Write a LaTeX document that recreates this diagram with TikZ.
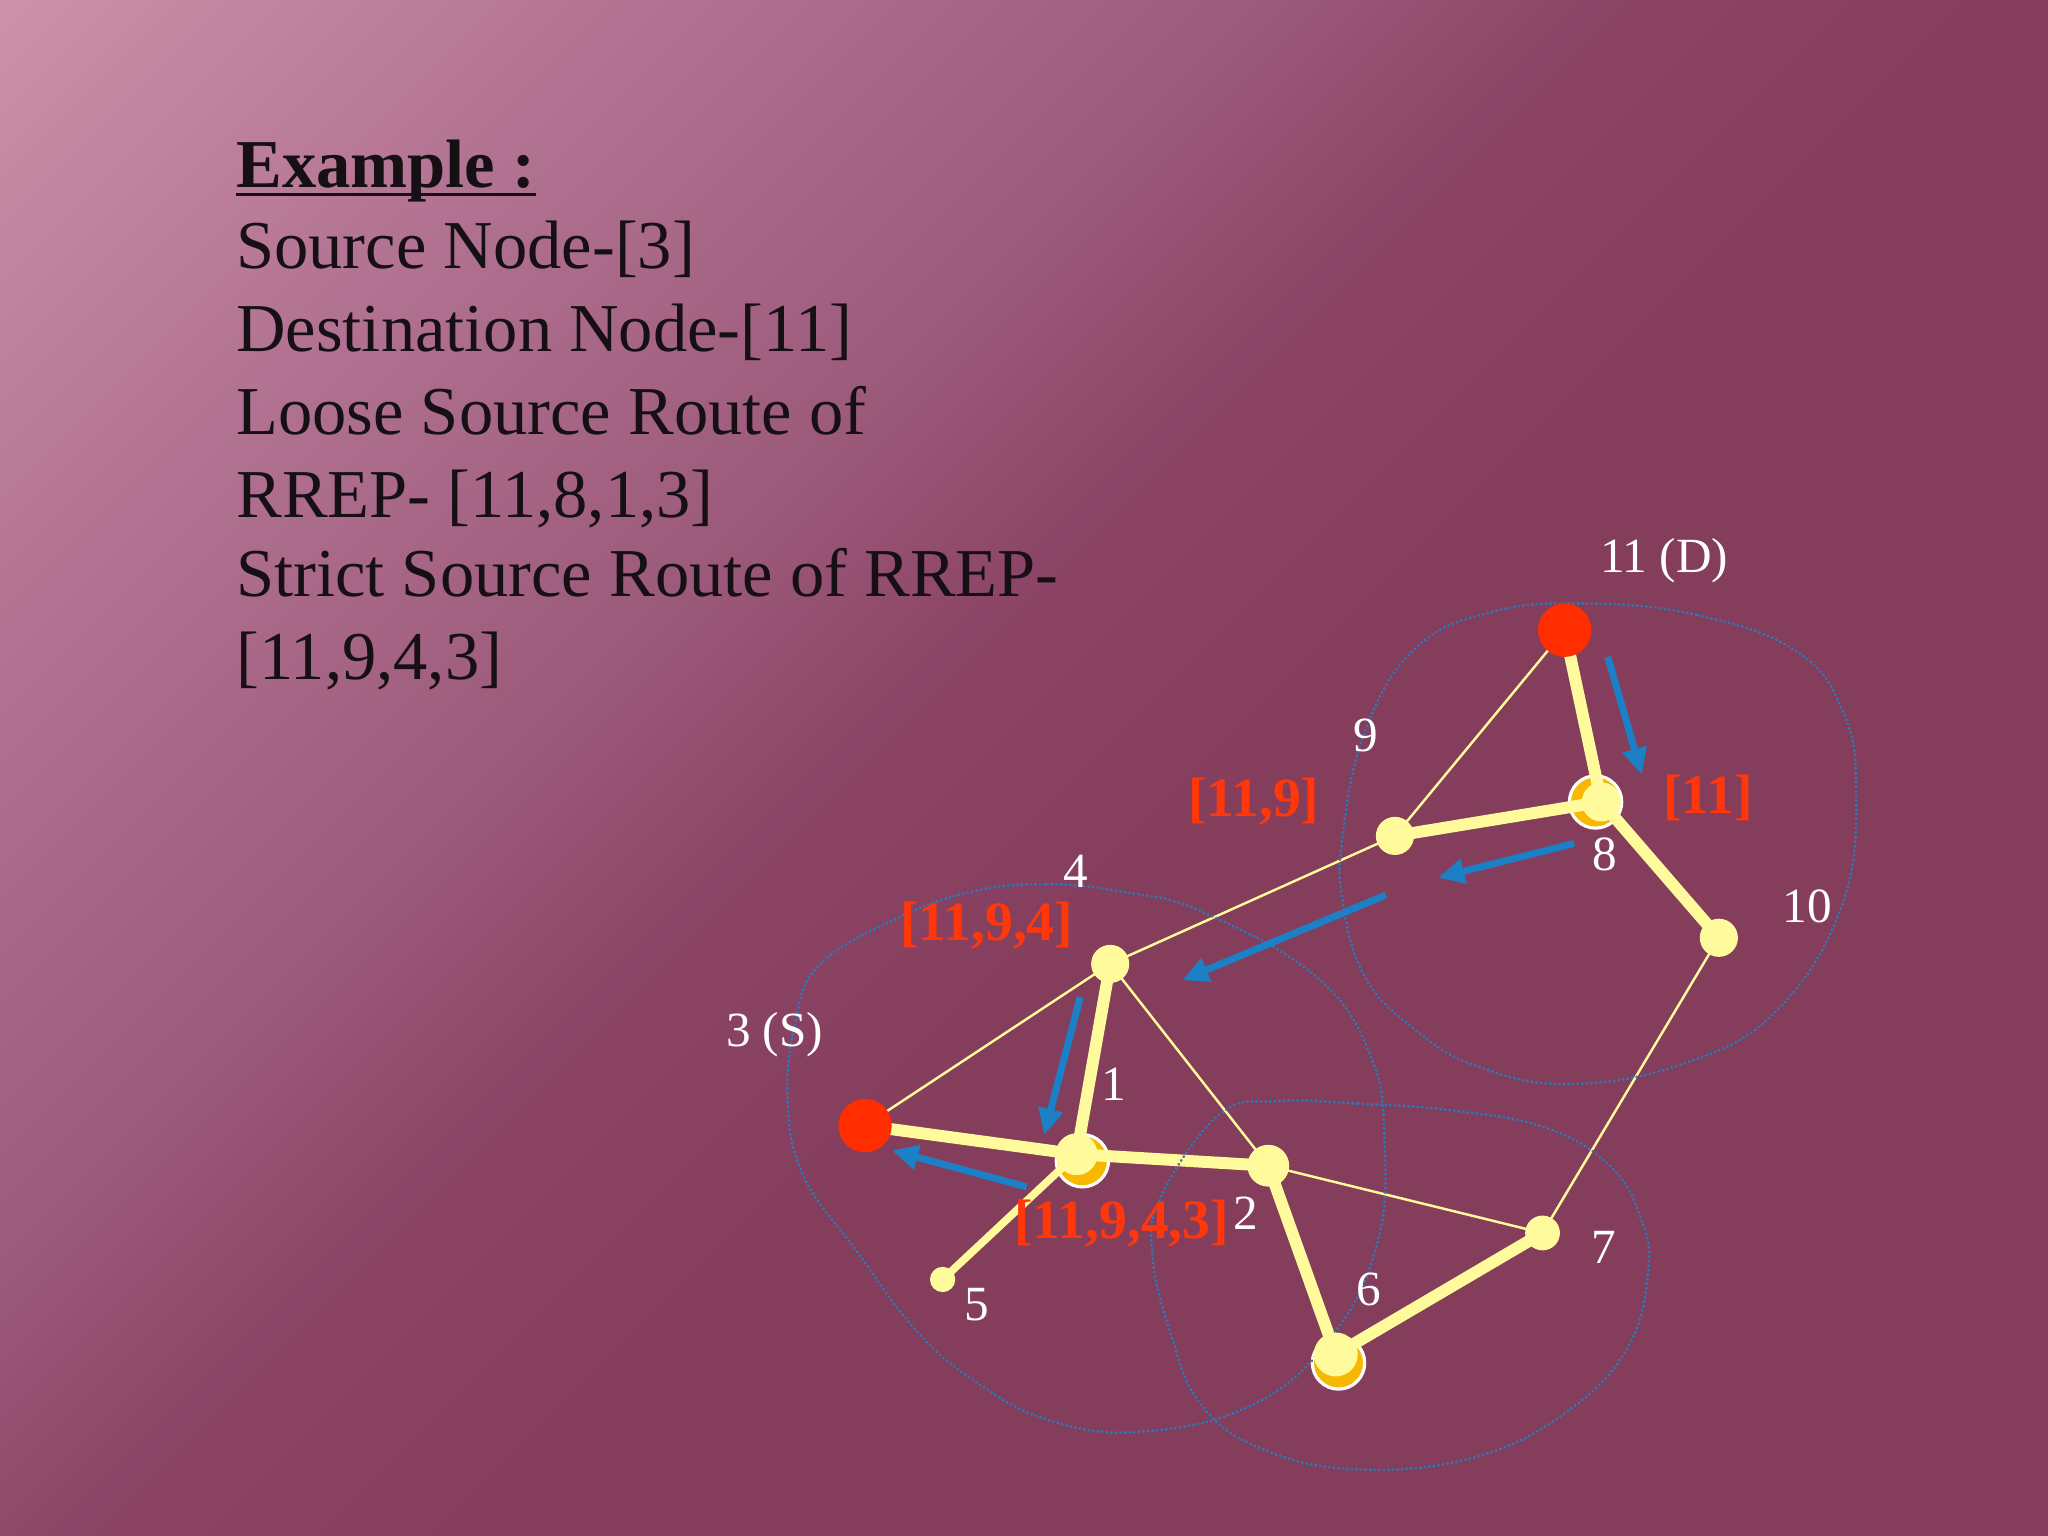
\documentclass[tikz,border=0pt]{standalone}
\usepackage{fontspec}
\setmainfont{Liberation Serif}
\usetikzlibrary{arrows.meta}
\definecolor{bgA}{RGB}{204,147,169}
\definecolor{bgB}{RGB}{176,112,144}
\definecolor{bgC}{RGB}{156,90,122}
\definecolor{bgD}{RGB}{140,69,102}
\definecolor{bgE}{RGB}{132,61,91}
\definecolor{ylw}{RGB}{255,250,155}
\definecolor{org}{RGB}{248,184,0}
\definecolor{rd}{RGB}{255,45,0}
\definecolor{rdtxt}{RGB}{255,55,10}
\definecolor{blu}{RGB}{28,128,198}
\definecolor{zoneblue}{RGB}{42,122,188}
\definecolor{ink}{RGB}{22,16,20}
\pgfdeclarelayer{bgl}
\pgfdeclarelayer{orl}
\pgfdeclarelayer{edl}
\pgfsetlayers{bgl,orl,edl,main}
\tikzset{
  thickedge/.style={draw=ylw, line width=3.4pt},
  medge/.style={draw=ylw, line width=2.2pt},
  thinedge/.style={draw=ylw, line width=0.7pt},
  ynode/.style={circle, fill=ylw, inner sep=0pt},
  rnode/.style={circle, fill=rd, inner sep=0pt, minimum size=15.2pt},
  onode/.style={circle, fill=org, draw=white, line width=0.9pt, inner sep=0pt, minimum size=14.9pt},
  wlbl/.style={text=white, font=\fontsize{14}{16}\selectfont, inner sep=0pt},
  rlbl/.style={text=rdtxt, font=\fontsize{15.8}{18}\selectfont\bfseries, inner sep=0pt},
  barrow/.style={draw=blu, line width=2pt, -{Triangle[length=7.5pt,width=6.8pt]}},
  zone/.style={draw=zoneblue, line width=0.85pt, line cap=round, dash pattern=on 0.05pt off 1.25pt},
  maintext/.style={text=ink, font=\fontsize{19.5}{23.4}\selectfont, inner sep=0pt, anchor=base west}
}
\begin{document}
\begin{tikzpicture}[x=0.0130612cm, y=-0.0130612cm]
\useasboundingbox (0,0) rectangle (1568,1176);
% background
\begin{pgfonlayer}{bgl}
\fill[bgE] (0,0) rectangle (1568,1176);
\begin{scope}
\clip (0,0) rectangle (1568,1176);
\begin{scope}[transform canvas={rotate=-45}]
\shade[left color=bgA, right color=bgB] (-10,-1800) rectangle (380,1800);
\shade[left color=bgB, right color=bgC] (379,-1800) rectangle (690,1800);
\shade[left color=bgC, right color=bgD] (689,-1800) rectangle (866,1800);
\shade[left color=bgD, right color=bgE] (865,-1800) rectangle (1110,1800);
\end{scope}
\end{scope}
\end{pgfonlayer}

% left text
\node[maintext, font=\fontsize{19.5}{23.4}\selectfont\bfseries] (t0) at (180.4,143.8) {Example :};
\draw[ink, line width=0.95pt] ([yshift=-1.9pt]t0.base west) -- ([yshift=-1.9pt]t0.base east);
\node[maintext] (t1) at (180.4,205.3) {Source Node-[3]};
\node[maintext] (t2) at (180.4,268.9) {Destination Node-[11]};
\node[maintext] (t3) at (180.4,332.5) {Loose Source Route of};
\node[maintext] (t4) at (180.4,396) {RREP- [11,8,1,3]};
\node[maintext] (t5) at (180.4,457) {Strict Source Route of RREP-};
\node[maintext] (t6) at (180.4,520) {[11,9,4,3]};

% radio ranges
\draw[zone] plot[smooth cycle, tension=0.7] coordinates {
 (1212,462) (1300,471) (1376,499) (1411,545) (1421,603) (1411,691) (1361,773)
 (1290,814) (1201,830) (1130,816) (1083,788) (1045,748) (1028,690) (1028,640)
 (1045,560) (1083,497) (1140,469)};
\draw[zone] plot[smooth cycle, tension=0.7] coordinates {
 (743,683) (802,677) (861,683) (920,698) (1008,748) (1050,810) (1060,875)
 (1055,950) (1022,1020) (962,1074) (876,1096) (802,1087) (743,1055) (700,1017)
 (656,958) (615,900) (603,841) (609,783) (627,739) (685,704)};
\draw[zone] plot[smooth cycle, tension=0.7] coordinates {
 (978,843) (1040,845) (1110,850) (1182,863) (1232,892) (1256,932) (1262,972)
 (1246,1032) (1198,1082) (1128,1116) (1040,1125) (968,1110) (920,1076)
 (896,1020) (882,958) (890,914) (934,853)};

% nodes
\node[rnode] (n11) at (1198,482.5) {};
\node[ynode, minimum size=11.1pt] (n8) at (1226,614) {};
\node[ynode, minimum size=10.85pt] (n9) at (1068,640) {};
\node[ynode, minimum size=10.85pt] (n10) at (1316,718) {};
\node[ynode, minimum size=10.85pt] (n4) at (850,738) {};
\node[rnode] (n3) at (662.3,861.8) {};
\node[ynode, minimum size=11.9pt] (n1) at (824.3,883.7) {};
\node[ynode, minimum size=11.9pt] (n2) at (971,892.5) {};
\node[ynode, minimum size=7.2pt] (n5) at (721.7,979.6) {};
\node[ynode, minimum size=12.5pt] (n6) at (1022.7,1037) {};
\node[ynode, minimum size=9.9pt] (n7) at (1181,944) {};

\begin{pgfonlayer}{orl}
\node[onode] (n8o) at (1221.6,614) {};
\node[onode] (n1o) at (828.7,888.7) {};
\node[onode] (n6o) at (1024.8,1043.5) {};
\end{pgfonlayer}

% edges
\begin{pgfonlayer}{edl}
\draw[thickedge] (n11.center) -- (n8.center);
\draw[thickedge] (n8.center) -- (n9.center);
\draw[thickedge] (n8.center) -- (n10.center);
\draw[thickedge] (n3.center) -- (n1.center);
\draw[thickedge] (n1.center) -- (n4.center);
\draw[thickedge] (n1.center) -- (n2.center);
\draw[medge] (n1.center) -- (n5.center);
\draw[thickedge] (n2.center) -- (n6.center);
\draw[thickedge] (n6.center) -- (n7.center);
\draw[thinedge] (n11.center) -- (n9.center);
\draw[thinedge] (n9.center) -- (n4.center);
\draw[thinedge] (n4.center) -- (n3.center);
\draw[thinedge] (n4.center) -- (n2.center);
\draw[thinedge] (n2.center) -- (n7.center);
\draw[thinedge] (n10.center) -- (n7.center);
\end{pgfonlayer}

% blue arrows
\coordinate (aAs) at (1231,503);   \coordinate (aAe) at (1257,593);
\coordinate (aBs) at (1205,645.8); \coordinate (aBe) at (1101,672);
\coordinate (aCs) at (1061,685.3); \coordinate (aCe) at (905,750.4);
\coordinate (aDs) at (827,763.6);  \coordinate (aDe) at (799.4,869);
\coordinate (aEs) at (786,908.7);  \coordinate (aEe) at (682.8,880.8);
\draw[barrow] (aAs) -- (aAe);
\draw[barrow] (aBs) -- (aBe);
\draw[barrow] (aCs) -- (aCe);
\draw[barrow] (aDs) -- (aDe);
\draw[barrow] (aEs) -- (aEe);

% white labels
\node[wlbl] (l11) at (1274,429) {11 (D)};
\node[wlbl] (l9) at (1046,563) {9};
\node[wlbl] (l8) at (1229,654) {8};
\node[wlbl] (l10) at (1383.6,694) {10};
\node[wlbl] (l4) at (823.5,667) {4};
\node[wlbl] (l3) at (593,792) {3 (S)};
\node[wlbl] (l1) at (853,830) {1};
\node[wlbl] (l2) at (954,928.5) {2};
\node[wlbl] (l5) at (748,999) {5};
\node[wlbl] (l6) at (1048,987) {6};
\node[wlbl] (l7) at (1228,955) {7};

% red route labels
\node[rlbl] (r11) at (1307.5,611) {[11]};
\node[rlbl] (r119) at (960,614) {[11,9]};
\node[rlbl] (r1194) at (755.5,708.7) {[11,9,4]};
\node[rlbl] (r11943) at (858.8,937) {[11,9,4,3]};
\end{tikzpicture}
\end{document}
